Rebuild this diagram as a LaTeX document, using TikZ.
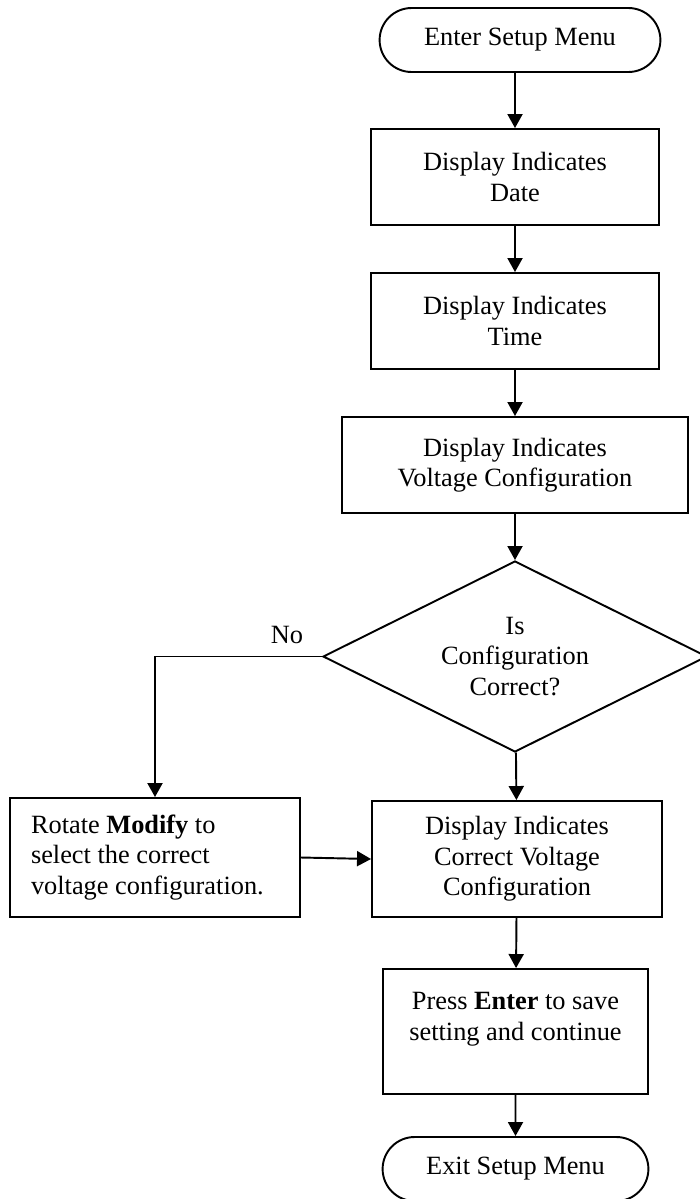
\documentclass[tikz,border=0pt]{standalone}
\usepackage{fontspec}
\setmainfont{Liberation Serif}
\usetikzlibrary{shapes.misc,shapes.geometric,arrows.meta}

\begin{document}
\begin{tikzpicture}[font=\fontsize{15}{17.4}\selectfont]
    \tikzstyle{term_style} = [draw, line width=1.1pt, rounded rectangle, minimum height=1.28cm]
    \tikzstyle{box_style} = [draw, line width=1.1pt, rectangle, align=center, minimum height=1.92cm]
    \tikzstyle{test_style} = [draw, line width=1.1pt, diamond, aspect=2, inner sep=0pt, align=center, minimum width=7.68cm, minimum height=3.82cm]
    \tikzstyle{arrow_style1} = [-{Triangle[length=0.28cm, width=0.3cm]}, black, line width=1.1pt]

    \useasboundingbox (0,0) rectangle (14,-23.98);

    \node[term_style, minimum width=5.85cm] (n1) at (10.4,-0.8) {Enter Setup Menu};
    \node[box_style, minimum width=5.76cm] (n2) at (10.3,-3.54) {Display Indicates\\Date};
    \node[box_style, minimum width=5.76cm] (n3) at (10.3,-6.42) {Display Indicates\\Time};
    \node[box_style, minimum width=6.92cm] (n4) at (10.3,-9.3) {Display Indicates\\Voltage Configuration};
    \node[test_style] (n5) at (10.3,-13.13) {Is\\Configuration\\Correct?};
    \node[box_style, minimum width=5.8cm, minimum height=2.38cm, align=flush left, text width=4.96cm] (n6) at (3.1,-17.15) {Rotate \textbf{Modify} to\\select the correct\\voltage configuration.};
    \node[box_style, minimum width=5.8cm, minimum height=2.32cm] (n7) at (10.34,-17.18) {Display Indicates\\Correct Voltage\\Configuration};
    \node[box_style, minimum width=5.3cm, minimum height=2.5cm] (n8) at (10.31,-20.63) {Press \textbf{Enter} to save\\setting and continue\\~};
    \node[term_style, minimum width=5.55cm] (n9) at (10.31,-23.38) {Exit Setup Menu};
    \node (no) at (5.74,-12.7) {No};

    \draw[arrow_style1] (n2.north |- n1.south) -- (n2);
    \draw[arrow_style1] (n2) edge (n3);
    \draw[arrow_style1] (n3) edge (n4);
    \draw[arrow_style1] (n4) edge (n5);
    \draw[arrow_style1] (n5.west) -| (n6.north);
    \draw[arrow_style1] (n5) edge (n7);
    \draw[arrow_style1] (n6.east) -- (n7.west);
    \draw[arrow_style1] (n7) edge (n8);
    \draw[arrow_style1] (n8) edge (n9);
\end{tikzpicture}
\end{document}
